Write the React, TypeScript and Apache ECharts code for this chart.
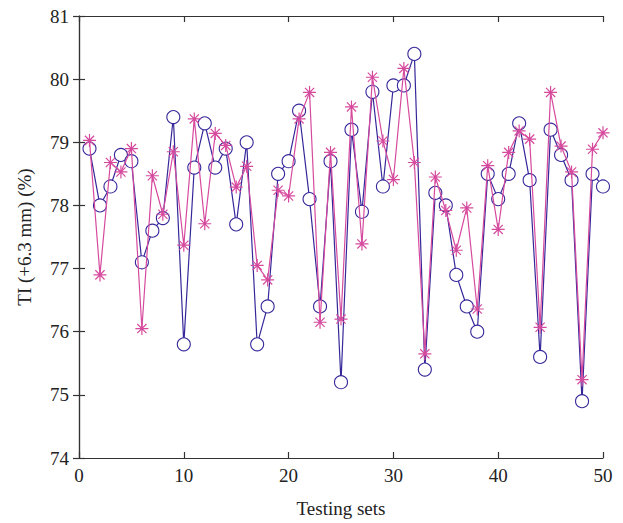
import React, { useEffect, useRef } from "react";
import * as echarts from "echarts";

const testingSets: number[] = Array.from({ length: 50 }, (_, i) => i + 1);

const blueSeries: number[] = [
  78.9, 78.0, 78.3, 78.8, 78.7, 77.1, 77.6, 77.8, 79.4, 75.8,
  78.6, 79.3, 78.6, 78.9, 77.7, 79.0, 75.8, 76.4, 78.5, 78.7,
  79.5, 78.1, 76.4, 78.7, 75.2, 79.2, 77.9, 79.8, 78.3, 79.9,
  79.9, 80.4, 75.4, 78.2, 78.0, 76.9, 76.4, 76.0, 78.5, 78.1,
  78.5, 79.3, 78.4, 75.6, 79.2, 78.8, 78.4, 74.9, 78.5, 78.3,
];

const pinkSeries: number[] = [
  79.03, 76.9, 78.68, 78.53, 78.9, 76.05, 78.47, 77.86, 78.85, 77.37,
  79.37, 77.71, 79.14, 78.95, 78.29, 78.62, 77.05, 76.82, 78.24, 78.15,
  79.37, 79.79, 76.15, 78.84, 76.2, 79.56, 77.39, 80.03, 79.02, 78.41,
  80.17, 78.68, 75.65, 78.45, 77.92, 77.29, 77.96, 76.36, 78.63, 77.62,
  78.84, 79.18, 79.05, 76.07, 79.79, 78.94, 78.53, 75.24, 78.89, 79.15,
];

const xTicks = { min: 0, max: 50, interval: 10 };
const yTicks = { min: 74, max: 81, interval: 1 };

const BLUE = "#35279a";
const PINK = "#d64a9e";
const AXIS = "#333333";
const FONT = "'Liberation Serif', 'DejaVu Serif', serif";

const asterisk =
  "path://M0,-10L0,10M-10,0L10,0M-7.07,-7.07L7.07,7.07M-7.07,7.07L7.07,-7.07";

export default function App() {
  const ref = useRef<HTMLDivElement>(null);

  useEffect(() => {
    if (!ref.current) return;
    const chart = echarts.init(ref.current, undefined, { renderer: "svg" });
    const axisLine = { show: true, lineStyle: { color: AXIS, width: 1.2 } };
    const tick = { show: true, inside: true, length: 6, lineStyle: { color: AXIS, width: 1.2 } };
    chart.setOption({
      animation: false,
      backgroundColor: "#ffffff",
      grid: { left: 79, right: 20, top: 16, bottom: 60, containLabel: false },
      xAxis: [
        {
          type: "value",
          ...xTicks,
          position: "bottom",
          axisLine,
          axisTick: tick,
          splitLine: { show: false },
          axisLabel: { color: "#222", fontFamily: FONT, fontSize: 19, margin: 8 },
          name: "Testing sets",
          nameLocation: "middle",
          nameGap: 41,
          nameTextStyle: { color: "#222", fontFamily: FONT, fontSize: 19 },
        },
        {
          type: "value",
          ...xTicks,
          position: "top",
          axisLine,
          axisTick: tick,
          splitLine: { show: false },
          axisLabel: { show: false },
        },
      ],
      yAxis: [
        {
          type: "value",
          ...yTicks,
          position: "left",
          axisLine,
          axisTick: tick,
          splitLine: { show: false },
          axisLabel: { color: "#222", fontFamily: FONT, fontSize: 19, margin: 10 },
          name: "TI (+6.3 mm) (%)",
          nameLocation: "middle",
          nameGap: 45,
          nameTextStyle: { color: "#222", fontFamily: FONT, fontSize: 19 },
        },
        {
          type: "value",
          ...yTicks,
          position: "right",
          axisLine,
          axisTick: tick,
          splitLine: { show: false },
          axisLabel: { show: false },
        },
      ],
      series: [
        {
          type: "line",
          data: testingSets.map((x, i) => [x, blueSeries[i]]),
          symbol: "circle",
          symbolSize: 13,
          showAllSymbol: true,
          lineStyle: { color: BLUE, width: 1.2 },
          itemStyle: { color: "#ffffff", borderColor: BLUE, borderWidth: 1.1 },
          z: 2,
        },
        {
          type: "line",
          data: testingSets.map((x, i) => [x, pinkSeries[i]]),
          symbol: asterisk,
          symbolSize: 13,
          showAllSymbol: true,
          lineStyle: { color: PINK, width: 1.2 },
          itemStyle: { color: "rgba(0,0,0,0)", borderColor: PINK, borderWidth: 1.2 },
          z: 3,
        },
      ],
    });
    return () => chart.dispose();
  }, []);

  return (
    <div
      ref={ref}
      style={{ position: "absolute", left: 0, top: 0, width: 623, height: 523 }}
    />
  );
}
